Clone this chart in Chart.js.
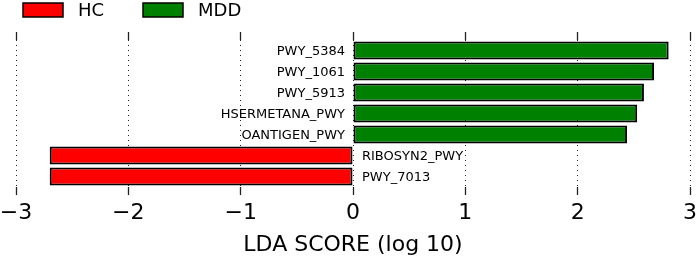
<!DOCTYPE html>
<html lang="en">
<head>
<meta charset="UTF-8">
<title>LDA score</title>
<script src="https://cdn.jsdelivr.net/npm/chart.js@4.4.1/dist/chart.umd.min.js"></script>
<style>
  body { margin: 0; background: #fff; }
  #wrap { width: 699px; height: 259px; }
</style>
</head>
<body>
<div id="wrap"><canvas id="ldaChart" width="699" height="259"></canvas></div>
<script>
// pathways, top to bottom
var pathways = ['PWY_5384', 'PWY_1061', 'PWY_5913', 'HSERMETANA_PWY', 'OANTIGEN_PWY', 'RIBOSYN2_PWY', 'PWY_7013'];
// LDA scores per group (null = not enriched in that group)
var mddScores = [2.81, 2.68, 2.59, 2.53, 2.44, null, null];
var hcScores = [null, null, null, null, null, -2.70, -2.70];
var groupNames = ['HC', 'MDD'];
var groupColors = ['#ff0000', '#008000'];
var xTicks = [-3, -2, -1, 0, 1, 2, 3];

var FONT = 'DejaVu Sans';

function fmtTick(v) {
    return v < 0 ? '\u2212' + Math.abs(v) : String(v);
}

// names next to the zero line
var barNames = {
    id: 'barNames',
    afterDatasetsDraw: function(chart) {
        var ctx = chart.ctx;
        var x0 = chart.scales.x.getPixelForValue(0);
        ctx.save();
        ctx.font = '13px ' + FONT;
        ctx.fillStyle = '#000';
        ctx.textBaseline = 'middle';
        chart.data.datasets.forEach(function(ds, di) {
            var meta = chart.getDatasetMeta(di);
            meta.data.forEach(function(bar, i) {
                var v = ds.data[i];
                if (v === null) return;
                if (v > 0) {
                    ctx.textAlign = 'right';
                    ctx.fillText(pathways[i], x0 - 8, bar.y + 1);
                } else {
                    ctx.textAlign = 'left';
                    ctx.fillText(pathways[i], x0 + 9, bar.y + 1);
                }
            });
        });
        ctx.restore();
    }
};

// legend drawn the matplotlib way: wide boxes with black edge
var boxLegend = {
    id: 'boxLegend',
    afterDraw: function(chart) {
        var ctx = chart.ctx;
        var xs = [23, 143];
        ctx.save();
        ctx.font = '18px ' + FONT;
        ctx.textBaseline = 'middle';
        ctx.textAlign = 'left';
        groupNames.forEach(function(name, i) {
            ctx.fillStyle = groupColors[i];
            ctx.fillRect(xs[i], 3, 40, 14);
            ctx.lineWidth = 1.5;
            ctx.strokeStyle = '#000';
            ctx.strokeRect(xs[i], 3, 40, 14);
            ctx.fillStyle = '#000';
            ctx.fillText(name, xs[i] + 55, 11);
        });
        ctx.restore();
    }
};

function setTicks(axis) {
    axis.ticks = xTicks.map(function(v) { return { value: v }; });
}

new Chart(document.getElementById('ldaChart'), {
    type: 'bar',
    data: {
        labels: pathways,
        datasets: [
            {
                label: groupNames[1],
                data: mddScores,
                backgroundColor: groupColors[1],
                borderColor: '#000',
                borderWidth: 2,
                borderSkipped: false
            },
            {
                label: groupNames[0],
                data: hcScores,
                backgroundColor: groupColors[0],
                borderColor: '#000',
                borderWidth: 2,
                borderSkipped: false
            }
        ]
    },
    options: {
        indexAxis: 'y',
        responsive: false,
        animation: false,
        barPercentage: 0.86,
        categoryPercentage: 1,
        layout: { padding: { top: 32, right: 9, left: 16, bottom: 0 } },
        plugins: {
            legend: { display: false },
            tooltip: { enabled: false }
        },
        scales: {
            y: {
                stacked: true,
                display: false
            },
            x: {
                position: 'bottom',
                min: -3, max: 3,
                afterBuildTicks: setTicks,
                afterFit: function(axis) {
                    axis.height = 72;
                    axis.paddingLeft = 0;
                    axis.paddingRight = 0;
                },
                grid: {
                    color: '#222',
                    lineWidth: 1,
                    tickLength: 8,
                    tickWidth: 1.3,
                    tickColor: '#222',
                    tickBorderDash: []
                },
                border: { display: false, dash: [1, 4] },
                ticks: {
                    padding: 5,
                    color: '#000',
                    font: { family: FONT, size: 22 },
                    callback: function(v) { return fmtTick(v); }
                },
                title: {
                    display: true,
                    text: 'LDA SCORE (log 10)',
                    color: '#000',
                    font: { family: FONT, size: 22 },
                    padding: { top: 0, bottom: 1 }
                }
            },
            x2: {
                position: 'top',
                axis: 'x',
                min: -3, max: 3,
                afterBuildTicks: setTicks,
                afterFit: function(axis) {
                    axis.height = 8;
                    axis.paddingLeft = 0;
                    axis.paddingRight = 0;
                },
                grid: {
                    drawOnChartArea: false,
                    tickLength: 8,
                    tickWidth: 1.3,
                    tickColor: '#222'
                },
                border: { display: false },
                ticks: { display: false }
            }
        }
    },
    plugins: [barNames, boxLegend]
});
</script>
</body>
</html>
